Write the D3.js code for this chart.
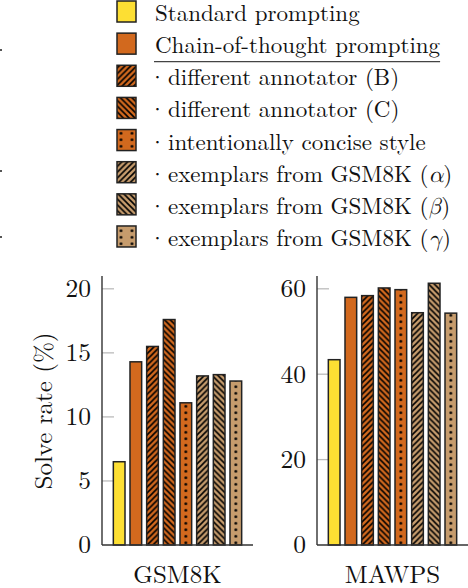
<!DOCTYPE html>
<html><head><meta charset="utf-8">
<script src="https://cdn.jsdelivr.net/npm/d3@7"></script>
<style>
html,body{margin:0;padding:0;background:#fff;}
</style></head>
<body>
<svg id="c" width="468" height="588"></svg>
<script>
const series = ["Standard prompting","Chain-of-thought prompting","different annotator (B)","different annotator (C)","intentionally concise style","exemplars from GSM8K","exemplars from GSM8K","exemplars from GSM8K"];
const greek = [null,null,null,null,null,"α","β","γ"];
const fills = ["#FDDF33","#D2691E","#D2691E","#D2691E","#D2691E","#C69C6D","#C69C6D","#C69C6D"];
const patterns = ["none","none","ne","nw","dots","ne","nw","dots"];
const datasets = ["GSM8K","MAWPS"];
const gsm8kValues = [6.5,14.3,15.5,17.6,11.1,13.2,13.3,12.8];
const mawpsValues = [43.4,58.0,58.4,60.2,59.8,54.4,61.3,54.3];
const gsm8kTicks = [0,5,10,15,20];
const mawpsTicks = [0,20,40,60];

const FONT = "'Latin Modern Roman','Liberation Serif',serif";
const GREEK = "'Latin Modern Math','FreeSerif','Liberation Serif',serif";
const svg = d3.select("#c").attr("font-family", FONT);
const defs = svg.append("defs");
const ink = "#222";

let pid = 0;
function patFill(type, color, ox) {
  if (type === "none") return color;
  const id = "p" + (pid++);
  if (type === "dots") {
    const p = defs.append("pattern").attr("id", id).attr("patternUnits","userSpaceOnUse")
      .attr("width", 11).attr("height", 6.5)
      .attr("patternTransform", `translate(${ox},0)`);
    p.append("rect").attr("width",11).attr("height",6.5).attr("fill",color);
    p.append("circle").attr("cx",5.5).attr("cy",3.25).attr("r",1.4).attr("fill","#000");
  } else {
    const s = 5.8;
    const p = defs.append("pattern").attr("id", id).attr("patternUnits","userSpaceOnUse")
      .attr("width", s).attr("height", s)
      .attr("patternTransform", `translate(${ox},0)`);
    p.append("rect").attr("width",s).attr("height",s).attr("fill",color);
    const d = type === "ne"
      ? `M${-s/2},${s/2} L${s/2},${-s/2} M0,${s} L${s},0 M${s/2},${1.5*s} L${1.5*s},${s/2}`
      : `M${-s/2},${s/2} L${s/2},${1.5*s} M0,0 L${s},${s} M${s/2},${-s/2} L${1.5*s},${s/2}`;
    p.append("path").attr("d", d).attr("stroke","#000").attr("stroke-width",1.6);
  }
  return `url(#${id})`;
}

const panels = [
  {name: datasets[0], values: gsm8kValues, ticks: gsm8kTicks, max: 21, x0: 102, x1: 253},
  {name: datasets[1], values: mawpsValues, ticks: mawpsTicks, max: 63, x0: 317, x1: 468}
];
const yBase = 545, yTop = 276;

panels.forEach((pn) => {
  const y = d3.scaleLinear().domain([0, pn.max]).range([yBase, yTop]);
  const x = d3.scaleBand().domain(d3.range(series.length)).range([pn.x0, pn.x1])
    .paddingInner(0.3).paddingOuter(0.68);
  const g = svg.append("g");
  g.selectAll("line.tk").data(pn.ticks.filter(t => t > 0)).join("line")
    .attr("x1", pn.x0).attr("x2", pn.x0 + 12)
    .attr("y1", d => y(d)).attr("y2", d => y(d))
    .attr("stroke", "#bbb").attr("stroke-width", 1.3);
  g.selectAll("text.tl").data(pn.ticks).join("text")
    .attr("x", pn.x0 - 11).attr("y", d => y(d)).attr("dy", "0.33em")
    .attr("text-anchor", "end").attr("font-size", 25.5).attr("fill", "#111")
    .text(d => d);
  g.selectAll("rect.bar").data(pn.values).join("rect")
    .attr("x", (d, i) => x(i)).attr("width", x.bandwidth())
    .attr("y", d => y(d)).attr("height", d => yBase - y(d))
    .attr("fill", (d, i) => patFill(patterns[i], fills[i], x(i) + x.bandwidth()/2 - 5.5))
    .attr("stroke", ink).attr("stroke-width", 1.5);
  g.append("line").attr("x1", pn.x0).attr("x2", pn.x0).attr("y1", yTop).attr("y2", yBase)
    .attr("stroke", "#333").attr("stroke-width", 1.4);
  g.append("line").attr("x1", pn.x0).attr("x2", pn.x1).attr("y1", yBase).attr("y2", yBase)
    .attr("stroke", "#333").attr("stroke-width", 1.4);
  g.append("text").attr("x", (pn.x0 + pn.x1) / 2).attr("y", 582.5)
    .attr("text-anchor", "middle").attr("font-size", 25).attr("fill", "#111").text(pn.name);
});

svg.append("text").attr("transform", "translate(52,411) rotate(-90)")
  .attr("text-anchor", "middle").attr("font-size", 25).attr("fill", "#111")
  .text("Solve rate (%)");

const lg = svg.append("g");
const rowY = i => 11.5 + i * 32.14;
series.forEach((s, i) => {
  const sx = 117, sw = 19, sh = 21;
  lg.append("rect").attr("x", sx).attr("y", rowY(i) - sh/2).attr("width", sw).attr("height", sh)
    .attr("fill", patFill(patterns[i], fills[i], sx - 1.5))
    .attr("stroke", ink).attr("stroke-width", 1.5);
  const base = rowY(i) + 9.5;
  if (i >= 2) {
    lg.append("text").attr("x", 157.5).attr("y", base).attr("text-anchor", "middle")
      .attr("font-size", 23).attr("fill", "#111").text("·");
  }
  const t = lg.append("text").attr("x", i >= 2 ? 168 : 155).attr("y", base)
    .attr("font-size", 23).attr("fill", "#111");
  t.append("tspan").text(s + (greek[i] ? " (" : ""));
  if (greek[i]) {
    t.append("tspan").attr("font-style", "italic").attr("font-family", GREEK).text(greek[i]);
    t.append("tspan").text(")");
  }
  if (i === 1) {
    const len = t.node().getComputedTextLength();
    lg.append("line").attr("x1", 154).attr("x2", 155 + len)
      .attr("y1", 61.7).attr("y2", 61.7).attr("stroke", "#444").attr("stroke-width", 1.2);
  }
});

const specks = [50, 171, 237];
svg.selectAll("rect.sp").data(specks).join("rect")
  .attr("x", 0).attr("y", d => d - 1).attr("width", 2).attr("height", 2).attr("fill", "#555");
</script>
</body></html>
